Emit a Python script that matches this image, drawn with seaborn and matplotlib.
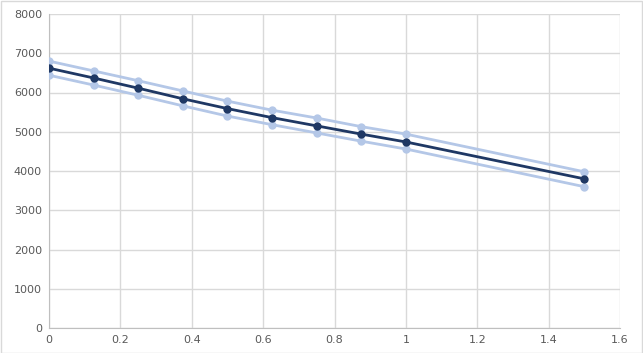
import matplotlib
matplotlib.use("Agg")
import matplotlib.pyplot as plt
import seaborn as sns
import pandas as pd

# data
x_vals = [0, 0.125, 0.25, 0.375, 0.5, 0.625, 0.75, 0.875, 1.0, 1.5]
upper = [6800, 6550, 6300, 6040, 5780, 5550, 5350, 5130, 4940, 3980]
center = [6620, 6370, 6110, 5840, 5590, 5360, 5150, 4940, 4740, 3800]
lower = [6440, 6190, 5930, 5660, 5400, 5180, 4970, 4760, 4560, 3600]

light = "#b4c7e7"
dark = "#1f3864"

df = pd.DataFrame({"x": x_vals, "upper": upper, "center": center, "lower": lower})

sns.set_style("white")
plt.rcParams["font.family"] = ["DejaVu Sans"]

fig = plt.figure(figsize=(6.43, 3.53), dpi=100)
ax = fig.add_axes([49 / 643, 25 / 353, 571 / 643, 314 / 353])

for col, c in [("upper", light), ("lower", light), ("center", dark)]:
    sns.lineplot(data=df, x="x", y=col, ax=ax, color=c, marker="o",
                 markersize=6, markeredgewidth=0, linewidth=2, zorder=3)

ax.set_xlim(0, 1.6)
ax.set_ylim(0, 8000)
ax.set_xticks([0, 0.2, 0.4, 0.6, 0.8, 1, 1.2, 1.4, 1.6])
ax.set_xticklabels(["0", "0.2", "0.4", "0.6", "0.8", "1", "1.2", "1.4", "1.6"])
ax.set_yticks(range(0, 8001, 1000))
ax.grid(True, color="#d9d9d9", linewidth=1)
ax.set_xlabel("")
ax.set_ylabel("")
for s in ["top", "right"]:
    ax.spines[s].set_visible(False)
for s in ["left", "bottom"]:
    ax.spines[s].set_color("#bfbfbf")
ax.tick_params(colors="#595959", labelsize=8, length=0, pad=5)

# outer chart border
fig.patches.append(plt.Rectangle((0.001, 0.001), 0.997, 0.997, transform=fig.transFigure,
                                 fill=False, edgecolor="#d9d9d9", linewidth=1))

fig.savefig("out.png", dpi=100)
